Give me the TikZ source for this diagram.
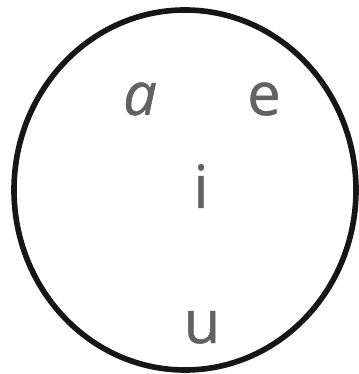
\documentclass[tikz,border=0pt]{standalone}
\usepackage{fontspec}
\setmainfont{Open Sans}[FakeBold=0.8]
\newfontfamily\slantfont{Open Sans Italic}[FakeBold=0.8]
\usepackage{xcolor}
\definecolor{vowelgray}{RGB}{98,98,98}
\definecolor{rimblack}{RGB}{22,22,22}

\begin{document}
\begin{tikzpicture}[
    x=0.02cm, y=-0.02cm,
    rim/.style={line width=3.2pt, draw=rimblack},
    vowel/.style={anchor=base, inner sep=0, text=vowelgray, font=\fontsize{34}{40}\selectfont},
]
    \useasboundingbox (0,0) rectangle (358,374);

    % Outer ring
    \draw[rim] (185,190) ellipse [x radius=171, y radius=180];

    % Vowels
    \node[vowel] (a) at (140,115) {\slantfont a};
    \node[vowel] (e) at (264,115) {e};
    \node[vowel] (i) at (201,208) {i};
    \node[vowel] (u) at (202,343) {u};

\end{tikzpicture}
\end{document}
